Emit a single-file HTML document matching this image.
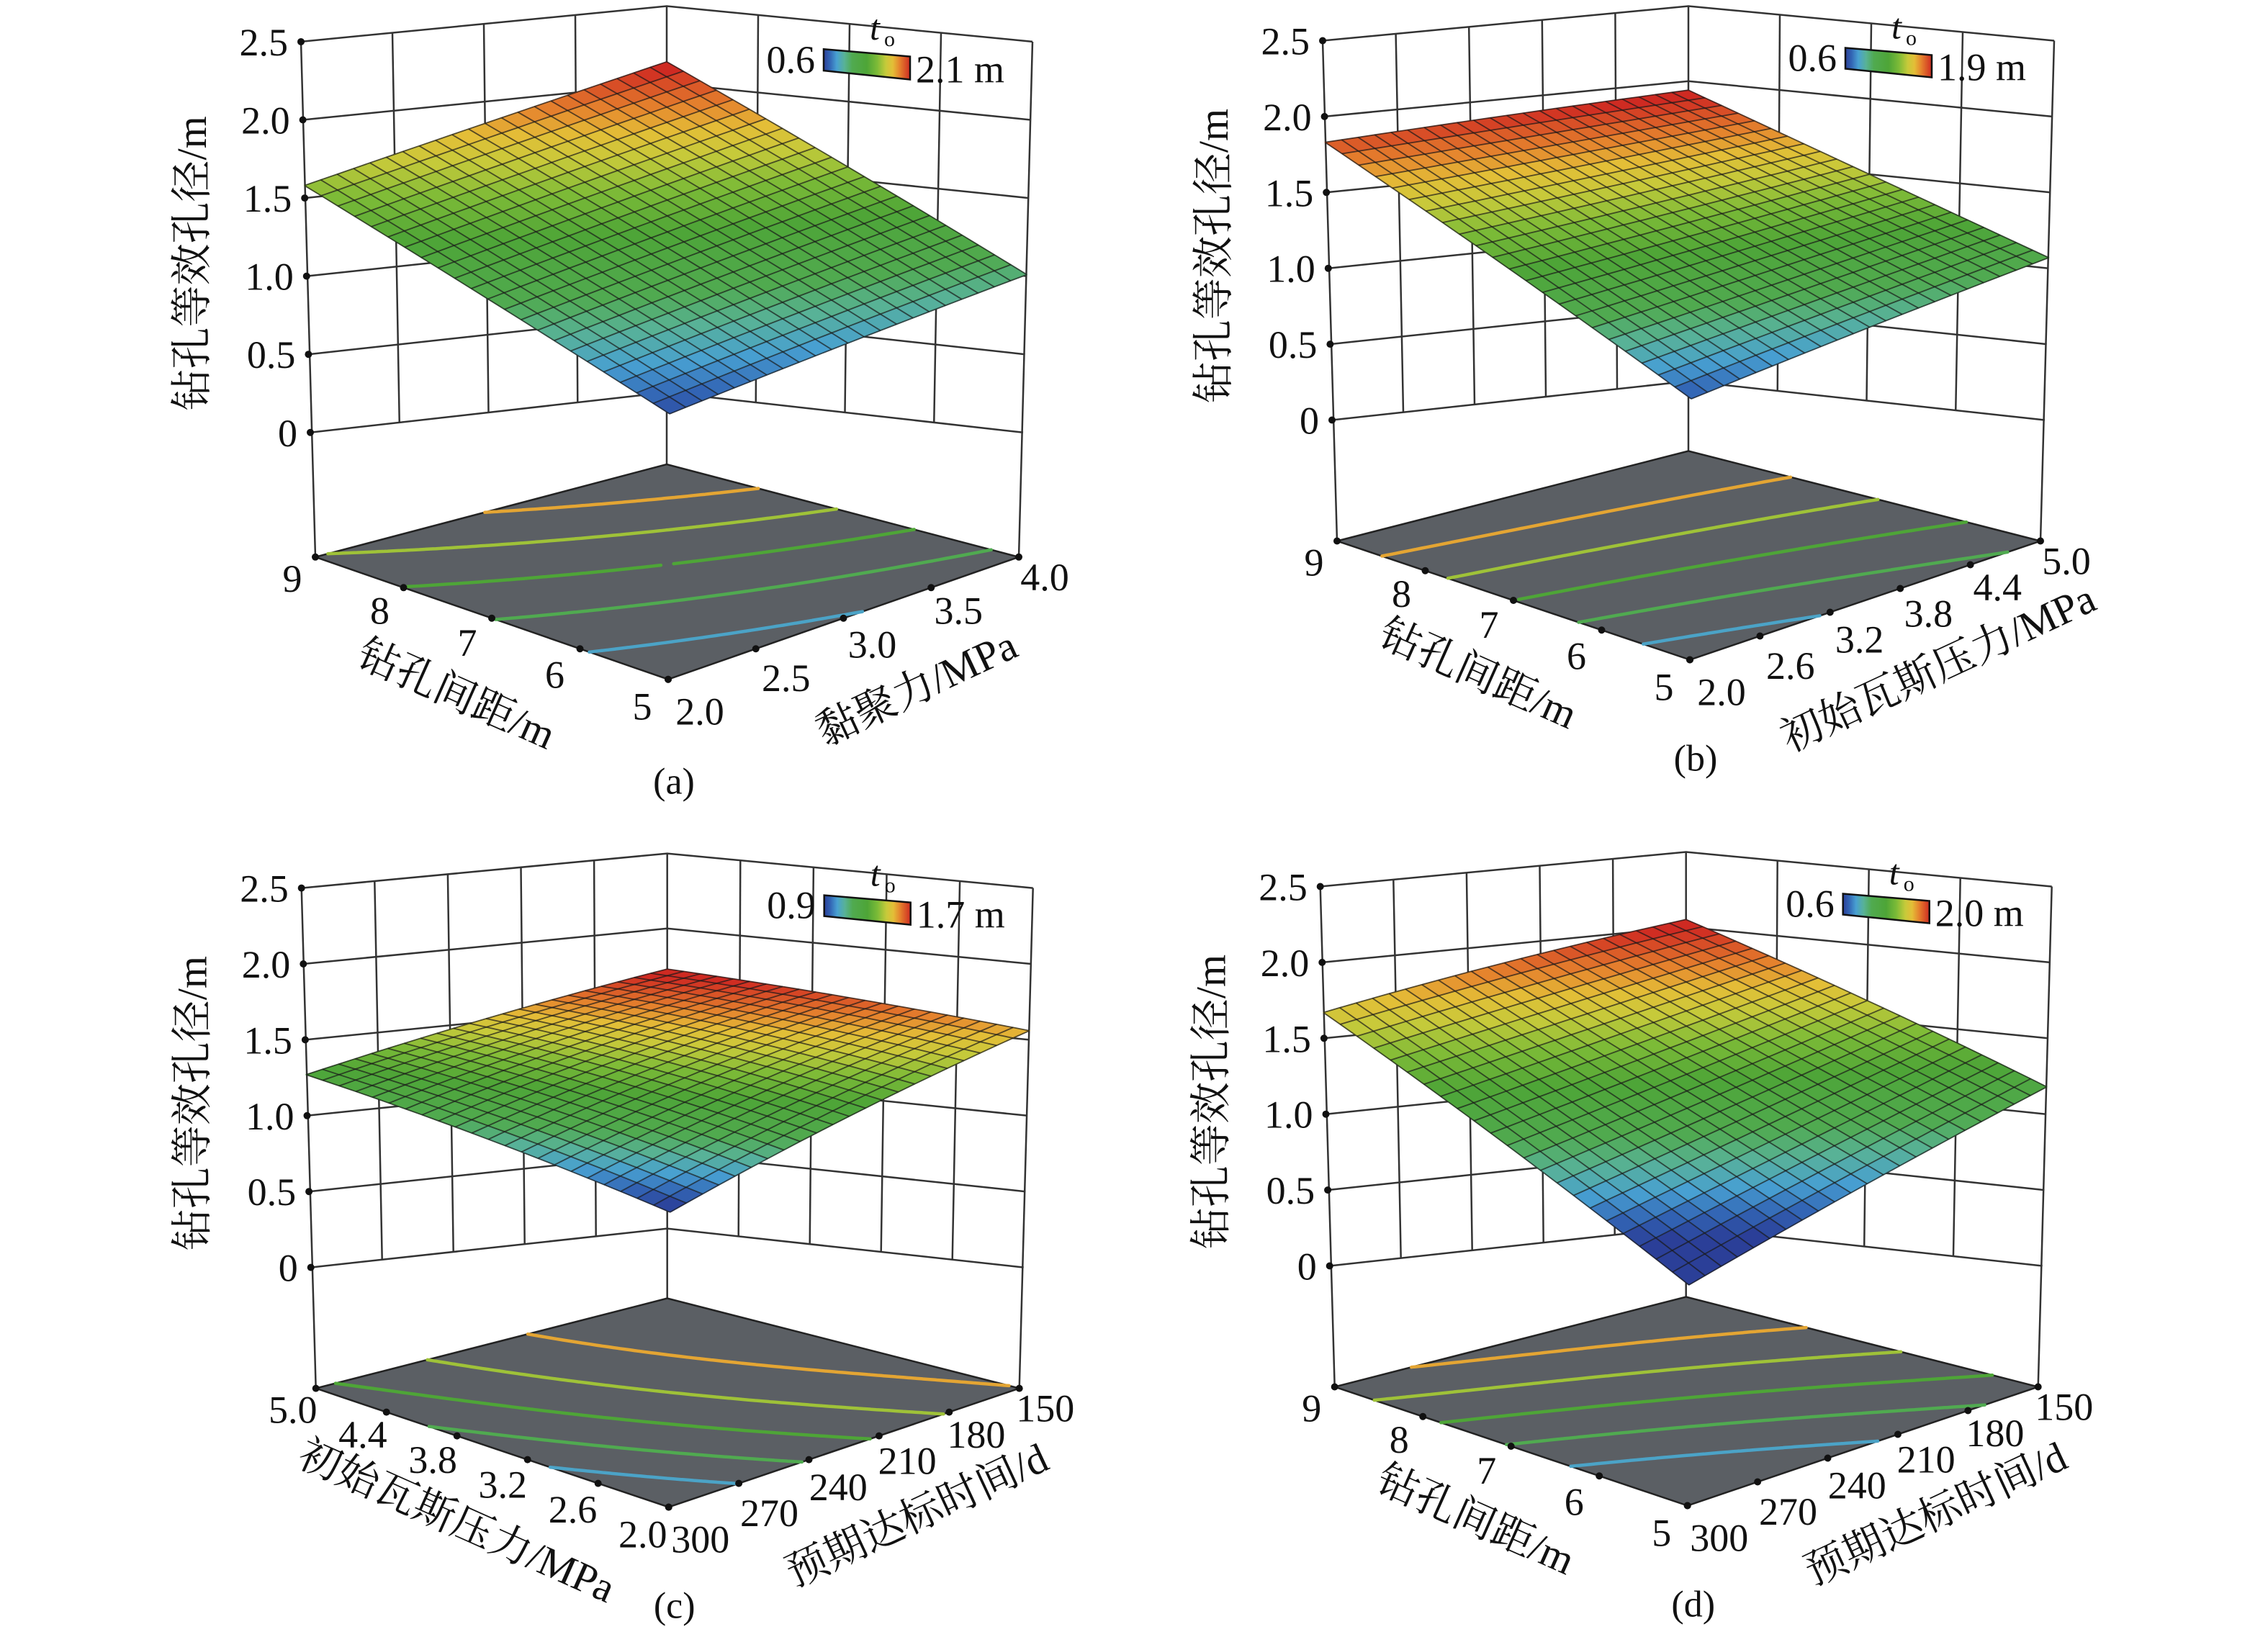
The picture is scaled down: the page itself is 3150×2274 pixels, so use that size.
<!DOCTYPE html>
<html><head><meta charset="utf-8">
<style>
html,body{margin:0;padding:0;background:#fff;}
svg{display:block;}
text{font-family:"Liberation Serif","Noto Serif CJK SC",serif;fill:#111;}
</style></head>
<body>
<svg id="chart" xmlns="http://www.w3.org/2000/svg" width="3150" height="2274" viewBox="0 0 3150 2274">
<rect x="0" y="0" width="3150" height="2274" fill="#fff"/>
</svg>
<script>
// ---------- data ----------
const aLeftTicks = ["5","6","7","8","9"];
const aRightTicks = ["2.0","2.5","3.0","3.5","4.0"];
const aValues = [[0.64,0.83,1.01],[1.11,1.35,1.58],[1.58,1.86,2.14]];
const aRange = [0.6,2.1];

const bLeftTicks = ["5","6","7","8","9"];
const bRightTicks = ["2.0","2.6","3.2","3.8","4.4","5.0"];
const bValues = [[0.66,0.87,1.07],[1.25,1.37,1.50],[1.83,1.89,1.94]];
const bRange = [0.6,1.9];

const cLeftTicks = ["2.0","2.6","3.2","3.8","4.4","5.0"];
const cRightTicks = ["300","270","240","210","180","150"];
const cValues = [[0.88,1.25,1.56],[1.10,1.42,1.66],[1.27,1.52,1.73]];
const cRange = [0.9,1.7];

const dLeftTicks = ["5","6","7","8","9"];
const dRightTicks = ["300","270","240","210","180","150"];
const dValues = [[0.40,0.80,1.18],[1.05,1.33,1.63],[1.67,1.88,2.05]];
const dRange = [0.6,2.0];

const zTicks = ["0","0.5","1.0","1.5","2.0","2.5"];
const zTickValues = [0,0.5,1.0,1.5,2.0,2.5];

// ---------- rendering ----------
const NS = "http://www.w3.org/2000/svg";
const svg = document.getElementById("chart");
function add(tag, attrs, parent, name){
  const e = document.createElementNS(NS, tag);
  for (const k in attrs) e.setAttribute(k, attrs[k]);
  
  
  parent.appendChild(e);
  return e;
}
const stops = [[0,[43,63,152]],[0.07,[50,100,180]],[0.15,[72,160,210]],[0.24,[88,178,150]],[0.33,[80,170,80]],[0.5,[78,165,55]],[0.62,[125,187,55]],[0.72,[198,202,58]],[0.8,[228,190,55]],[0.88,[229,130,45]],[1,[207,42,34]]];
function cmap(f){
  f = Math.max(0, Math.min(1, f));
  for (let i=1;i<stops.length;i++){
    if (f <= stops[i][0]){
      const a=stops[i-1], b=stops[i], r=(f-a[0])/(b[0]-a[0]);
      const c=a[1].map((v,k)=>Math.round(v+(b[1][k]-v)*r));
      return "rgb("+c.join(",")+")";
    }
  }
  return "rgb(207,42,34)";
}
function lag(x){ return [2*(x-0.5)*(x-1), -4*x*(x-1), 2*x*(x-0.5)]; }
function val(V,s,t){ const ls=lag(s), lt=lag(t); let v=0; for(let i=0;i<3;i++)for(let j=0;j<3;j++) v+=ls[i]*lt[j]*V[i][j]; return v; }

function drawPanel(id, ox, oy, sy, leftTicks, rightTicks, V, range, leftTitle, rightTitle, label){
  const g = add("g", {}, svg, "panel-"+id);
  const P = (x,y)=>[ox+x, oy+y*sy];
  const back = z=>P(0, 208.4*(2.5-z));
  const left = z=>P(-508+5.2*(2.5-z), 48+210.8*(2.5-z));
  const right = z=>P(508-5.2*(2.5-z), 48+210.8*(2.5-z));
  const front = z=>P(4, 150+215*(2.5-z));
  const bil=(F,L,R,B,s,t)=>[0,1].map(k=>(1-s)*(1-t)*F[k]+s*(1-t)*L[k]+(1-s)*t*R[k]+s*t*B[k]);
  const surf=(s,t,z)=>bil(front(z),left(z),right(z),back(z),s,t);
  const fF=P(2,908), fL=P(-488,743), fR=P(489,743), fB=P(0,618);
  const floor=(s,t)=>bil(fF,fL,fR,fB,s,t);
  const pt=p=>p[0].toFixed(1)+","+p[1].toFixed(1);
  const ln=(a,b,name,w)=>add("line",{x1:a[0],y1:a[1],x2:b[0],y2:b[1],stroke:"#333","stroke-width":w||2.5},g,name);

  // walls
  const walls = add("g",{},g,"walls-"+id);
  zTickValues.forEach(z=>{
    add("polyline",{points:pt(left(z))+" "+pt(back(z))+" "+pt(right(z)),fill:"none",stroke:"#333","stroke-width":2.5},walls,"wall-gridline-z");
  });
  const nR = rightTicks.length-1, nL = leftTicks.length-1;
  for(let k=1;k<nR;k++){
    const t=k/nR;
    const a=[0,1].map(i=>left(2.5)[i]+t*(back(2.5)[i]-left(2.5)[i]));
    const b=[0,1].map(i=>left(0)[i]+t*(back(0)[i]-left(0)[i]));
    ln(a,b,"left-wall-gridline");
  }
  for(let k=1;k<nL;k++){
    const s=k/nL;
    const a=[0,1].map(i=>right(2.5)[i]+s*(back(2.5)[i]-right(2.5)[i]));
    const b=[0,1].map(i=>right(0)[i]+s*(back(0)[i]-right(0)[i]));
    ln(a,b,"right-wall-gridline");
  }
  ln(back(2.5),fB,"back-vertical-edge");
  ln(left(2.5),fL,"z-axis-line");
  ln(right(2.5),fR,"right-vertical-edge");
  zTickValues.forEach((z,i)=>{
    const p=left(z);
    add("circle",{cx:p[0],cy:p[1],r:5,fill:"#111"},g,"z-tick");
    const tx=add("text",{x:p[0]-18,y:p[1]+19,"font-size":54,"text-anchor":"end"},g,"z-tick-label");
    tx.textContent=zTicks[i];
  });
  const yt=P(-640,347);
  const ytitle=add("text",{x:yt[0],y:yt[1],"font-size":58,"text-anchor":"middle",transform:"rotate(-90 "+yt[0]+" "+yt[1]+")"},g,"z-axis-title");
  ytitle.textContent="钻孔等效孔径/m";

  // floor
  add("polygon",{points:[fF,fL,fB,fR].map(pt).join(" "),fill:"#5b5f64",stroke:"#222","stroke-width":2.5},g,"contour-floor");
  const M=80, vmin=range[0], vmax=range[1];
  for(let k=1;k<=5;k++){
    const lev=vmin+(vmax-vmin)*k/6;
    let d="";
    const vv=(i,j)=>val(V,i/M,j/M);
    for(let i=0;i<M;i++)for(let j=0;j<M;j++){
      const c=[[i,j],[i+1,j],[i+1,j+1],[i,j+1]];
      const vs=c.map(q=>vv(q[0],q[1]));
      const pts=[];
      for(let e=0;e<4;e++){
        const a=vs[e], b=vs[(e+1)%4];
        if((a-lev)*(b-lev)<0){
          const r=(lev-a)/(b-a);
          const si=(c[e][0]+r*(c[(e+1)%4][0]-c[e][0]))/M, tj=(c[e][1]+r*(c[(e+1)%4][1]-c[e][1]))/M;
          pts.push(floor(si,tj));
        }
      }
      if(pts.length>=2) d+="M"+pt(pts[0])+"L"+pt(pts[1]);
      if(pts.length===4) d+="M"+pt(pts[2])+"L"+pt(pts[3]);
    }
    add("path",{d:d,fill:"none",stroke:cmap((lev-vmin)/(vmax-vmin)),"stroke-width":4.5,"stroke-linecap":"round"},g,"contour-line");
  }
  // floor ticks
  leftTicks.forEach((lab,i)=>{
    const s=i/nL, p=floor(s,0);
    add("circle",{cx:p[0],cy:p[1],r:5,fill:"#111"},g,"left-axis-tick");
    const ox2=-36+4*s, oy2=37-8*s;
    const tx=add("text",{x:p[0]+ox2,y:p[1]+oy2+19,"font-size":54,"text-anchor":"middle"},g,"left-axis-tick-label");
    tx.textContent=lab;
  });
  rightTicks.forEach((lab,j)=>{
    const t=j/nR, p=floor(0,t);
    add("circle",{cx:p[0],cy:p[1],r:5,fill:"#111"},g,"right-axis-tick");
    const ox2=44-8*t, oy2=44-17*t;
    const tx=add("text",{x:p[0]+ox2,y:p[1]+oy2+19,"font-size":54,"text-anchor":"middle"},g,"right-axis-tick-label");
    tx.textContent=lab;
  });
  const lt=P(-300,945), rt=P(355,937);
  const lT=add("text",{x:lt[0],y:lt[1],"font-size":58,"text-anchor":"middle",transform:"rotate(24 "+lt[0]+" "+lt[1]+")"},g,"left-axis-title");
  lT.textContent=leftTitle;
  const rT=add("text",{x:rt[0],y:rt[1],"font-size":58,"text-anchor":"middle",transform:"rotate(-25 "+rt[0]+" "+rt[1]+")"},g,"right-axis-title");
  rT.textContent=rightTitle;

  // surface
  const sg=add("g",{},g,"surface-"+id);
  const N=22;
  const grid=[];
  for(let i=0;i<=N;i++){grid.push([]);for(let j=0;j<=N;j++){const s=i/N,t=j/N,z=val(V,s,t);grid[i].push({p:surf(s,t,z),z:z});}}
  for(let i=0;i<N;i++)for(let j=0;j<N;j++){
    const q=[grid[i][j],grid[i+1][j],grid[i+1][j+1],grid[i][j+1]];
    const zm=(q[0].z+q[1].z+q[2].z+q[3].z)/4;
    const col=cmap((zm-vmin)/(vmax-vmin));
    add("polygon",{points:q.map(o=>pt(o.p)).join(" "),fill:col,stroke:col,"stroke-width":1},sg,"surface-cell");
  }
  for(let i=0;i<=N;i++){
    add("polyline",{points:grid[i].map(o=>pt(o.p)).join(" "),fill:"none",stroke:"rgba(25,25,25,0.7)","stroke-width":1.8},sg,"surface-meshline");
    add("polyline",{points:grid.map(r=>pt(r[i].p)).join(" "),fill:"none",stroke:"rgba(25,25,25,0.7)","stroke-width":1.8},sg,"surface-meshline");
  }

  // colorbar
  const cb=add("g",{},g,"colorbar-"+id);
  const gid="grad-"+id;
  const defs=add("defs",{},cb,"colorbar-defs");
  const lg=add("linearGradient",{id:gid,x1:"0",y1:"0",x2:"1",y2:"0"},defs,"colorbar-gradient");
  stops.forEach(s=>{add("stop",{offset:s[0],"stop-color":cmap(s[0])},lg,"gradient-stop");});
  const c1=P(218,58),c2=P(338,68),c3=P(338,99),c4=P(218,87);
  add("polygon",{points:[c1,c2,c3,c4].map(pt).join(" "),fill:"url(#"+gid+")",stroke:"#111","stroke-width":2.5},cb,"colorbar-bar");
  const m1=P(206,90), m2=P(346,103), tt=P(282,45), to=P(302,54);
  const minT=add("text",{x:m1[0],y:m1[1],"font-size":54,"text-anchor":"end"},cb,"colorbar-min-label"); minT.textContent=range[0].toFixed(1);
  const maxT=add("text",{x:m2[0],y:m2[1],"font-size":54},cb,"colorbar-max-label"); maxT.textContent=range[1].toFixed(1)+" m";
  const tT=add("text",{x:tt[0],y:tt[1],"font-size":50,"font-style":"italic"},cb,"colorbar-title"); tT.textContent="t";
  const oT=add("text",{x:to[0],y:to[1],"font-size":30},cb,"colorbar-title-subscript"); oT.textContent="o";

  const pl=P(10,1062);
  const plT=add("text",{x:pl[0],y:pl[1],"font-size":52,"text-anchor":"middle"},g,"panel-label"); plT.textContent=label;
}
drawPanel("a",926,8.5,1.03,aLeftTicks,aRightTicks,aValues,aRange,"钻孔间距/m","黏聚力/MPa","(a)");
drawPanel("b",2345,8.5,1.0,bLeftTicks,bRightTicks,bValues,bRange,"钻孔间距/m","初始瓦斯压力/MPa","(b)");
drawPanel("c",926.7,1185.6,1.0,cLeftTicks,cRightTicks,cValues,cRange,"初始瓦斯压力/MPa","预期达标时间/d","(c)");
drawPanel("d",2341.7,1183.5,1.0,dLeftTicks,dRightTicks,dValues,dRange,"钻孔间距/m","预期达标时间/d","(d)");
</script>
</body></html>
